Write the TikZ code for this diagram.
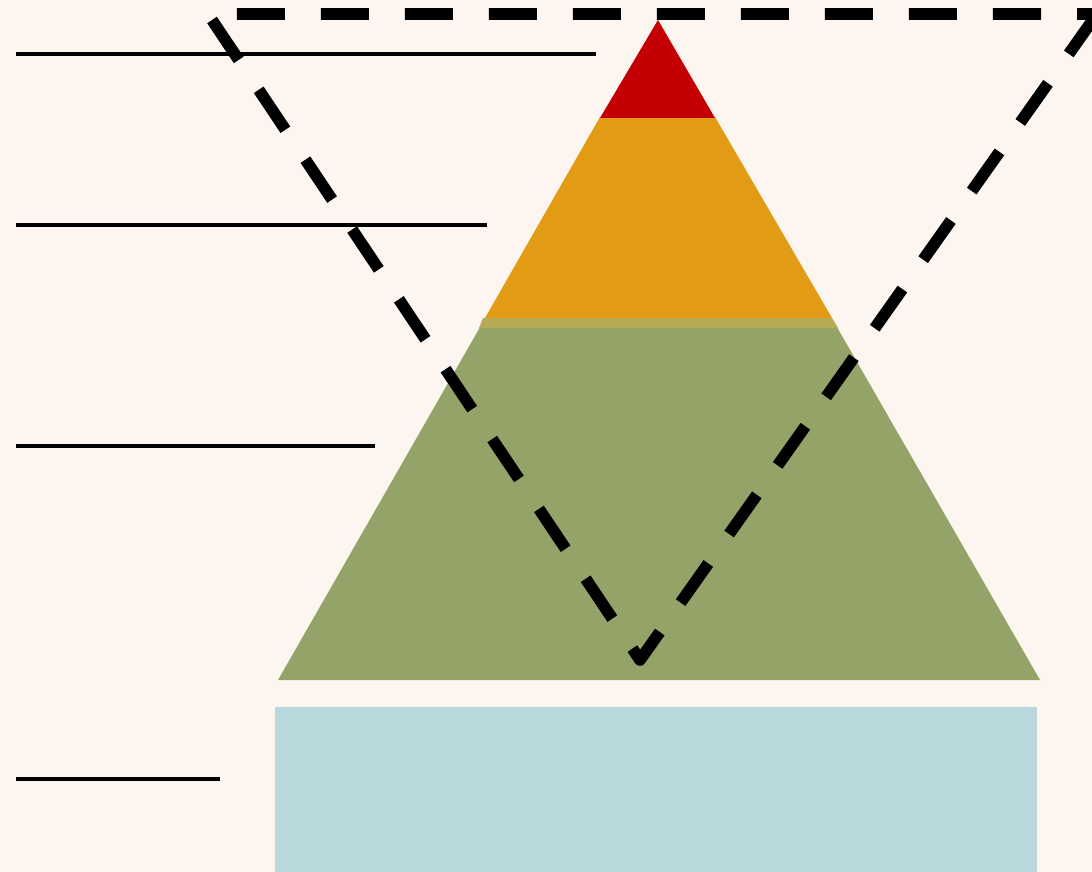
\documentclass[tikz,border=0pt]{standalone}
\definecolor{paper}{RGB}{253, 246, 240}
\definecolor{topred}{RGB}{196, 0, 5}
\definecolor{midorange}{RGB}{226, 155, 20}
\definecolor{lowgreen}{RGB}{148, 164, 105}
\definecolor{seamolive}{RGB}{183, 170, 86}
\definecolor{baseblue}{RGB}{185, 216, 219}
\usetikzlibrary{calc}
\tikzset{
	tier/.style={draw=none},
	leader/.style={line width=2.9pt, draw=black},
	funnel/.style={line width=8.3pt, draw=black, dash pattern=on 34.14pt off 25.61pt, dash phase=19.92pt, line join=round},
}

\begin{document}
\begin{tikzpicture}[x=0.025cm, y=-0.025cm]
		\fill[paper] (0,0) rectangle (1092,872);
		\useasboundingbox (0,0) rectangle (1092,872);
		% pyramid corners
		\coordinate (apex) at (658,20);
		\coordinate (bl) at (278,680);
		\coordinate (br) at (1040,680);
		% tiers
		\fill[tier, lowgreen] (483,322) -- (834,322) -- (br) -- (bl) -- cycle;
		\fill[tier, seamolive] (483,318) -- (832,318) -- (838,328) -- (479,328) -- cycle;
		\fill[tier, midorange] (600,117) -- (715,117) -- (832,318) -- (485,318) -- cycle;
		\fill[tier, topred] (apex) -- (715,118) -- (600,118) -- cycle;
		\fill[tier, baseblue] (275,707) rectangle (1037,872);
		% leader lines
		\coordinate (l1a) at (16,54);  \coordinate (l1b) at (596,54);
		\coordinate (l2a) at (16,225); \coordinate (l2b) at (487,225);
		\coordinate (l3a) at (16,446); \coordinate (l3b) at (375,446);
		\coordinate (l4a) at (16,779); \coordinate (l4b) at (220,779);
		\draw[leader] (l1a) -- (l1b);
		\draw[leader] (l2a) -- (l2b);
		\draw[leader] (l3a) -- (l3b);
		\draw[leader] (l4a) -- (l4b);
		% inverted triangle
		\coordinate (vtl) at (208,14);
		\coordinate (vbot) at (640,660);
		\coordinate (vtr) at (1097,14);
		\draw[funnel] (vtr) -- (vtl) -- (vbot) -- cycle;
	\end{tikzpicture}
\end{document}
